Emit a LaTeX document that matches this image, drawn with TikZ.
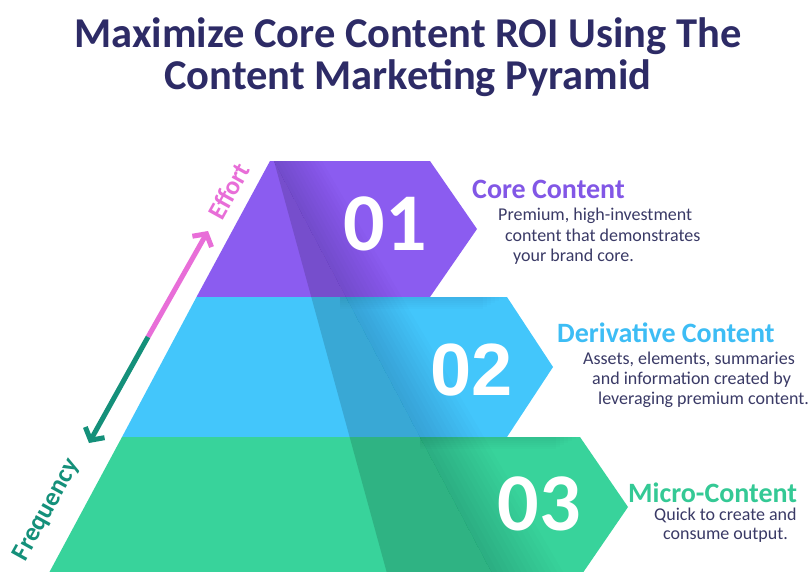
\documentclass[tikz,border=0pt]{standalone}
\usepackage{fontspec}
\setmainfont{Carlito}
\newfontfamily\numfont{Liberation Sans}
\usetikzlibrary{arrows.meta}

\definecolor{navy}{HTML}{2D2B66}
\definecolor{bodytext}{HTML}{3A3A66}
\definecolor{tierpurple}{HTML}{8B5CF0}
\definecolor{tierblue}{HTML}{43C6FB}
\definecolor{tiergreen}{HTML}{38D39B}
\definecolor{headpurple}{HTML}{8257E6}
\definecolor{headblue}{HTML}{3DBDF5}
\definecolor{headgreen}{HTML}{34C995}
\definecolor{effortpink}{HTML}{E86ED8}
\definecolor{freqteal}{HTML}{14907A}

\tikzset{
  titletext/.style={anchor=base, text=navy, font=\fontsize{42.5}{44}\selectfont\bfseries, inner sep=0pt},
  numtext/.style={text=white, inner sep=0pt, font=\fontsize{82}{82}\selectfont\bfseries},
  headtext/.style={anchor=base west, inner sep=0pt, font=\fontsize{28}{30}\selectfont\bfseries},
  bodyline/.style={anchor=base west, inner sep=0pt, text=bodytext, font=\fontsize{18}{20}\selectfont},
  axislabel/.style={inner sep=0pt, rotate=61, font=\fontsize{26}{28}\selectfont\bfseries},
  axisarrow/.style={line width=5pt, -{Straight Barb[length=9pt,width=22pt,line width=5pt]}},
}

\begin{document}
\begin{tikzpicture}[x=1pt,y=-1pt]
\useasboundingbox (0,0) rectangle (809,571);
\fill[white] (0,0) rectangle (809,571);

% title
\node[titletext] (title1) at (408,47) {Maximize Core Content ROI Using The};
\node[titletext] (title2) at (408,89) {Content Marketing Pyramid};

% pyramid tiers
\fill[tierpurple] (270,161) -- (430,161) -- (477,229) -- (430,297) -- (196.5,297) -- cycle;
\fill[tierblue] (196.5,297) -- (507,297) -- (553,367) -- (507,437) -- (122,437) -- cycle;
\fill[tiergreen] (122,437) -- (580,437) -- (628,507) -- (580,577) -- (46.8,577) -- cycle;

% folded crease across all tiers
\begin{scope}
  \clip (270,161) -- (430,161) -- (477,229) -- (430,297) -- (196.5,297) -- cycle
        (196.5,297) -- (507,297) -- (553,367) -- (507,437) -- (122,437) -- cycle
        (122,437) -- (580,437) -- (628,507) -- (580,577) -- (46.8,577) -- cycle;
  \fill[black, opacity=0.15] (274,161) -- (388,577) -- (494,577) -- cycle;
  \foreach \k in {1,...,12} {
    \fill[black, opacity=0.011] (274,161) -- (494,577) -- ({494+\k*6},577) -- ({274+\k*4},161) -- cycle;
  }
  % soft shadows cast by the tier above
  \foreach \k in {1,...,6} {
    \fill[black, opacity=0.012] (340,297) rectangle ({507-\k*4},{297+\k*2});
    \fill[black, opacity=0.012] (420,437) rectangle ({580-\k*4},{437+\k*2});
  }
\end{scope}

% numbers
\node[numtext] (n1) at (385,224) {01};
\node[numtext, font=\numfont\fontsize{74}{74}\selectfont\bfseries] (n2) at (472,370) {02};
\node[numtext] (n3) at (539,504) {03};

% tier descriptions
\node[headtext, text=headpurple] (h1) at (472,198) {Core Content};
\node[bodyline] (b1a) at (498,220) {Premium, high-investment};
\node[bodyline] (b1b) at (505,241) {content that demonstrates};
\node[bodyline] (b1c) at (513,261) {your brand core.};

\node[headtext, text=headblue] (h2) at (557,342) {Derivative Content};
\node[bodyline] (b2a) at (583,364) {Assets, elements, summaries};
\node[bodyline] (b2b) at (592,384) {and information created by};
\node[bodyline] (b2c) at (598,404) {leveraging premium content.};

\node[headtext, text=headgreen] (h3) at (628,502) {Micro-Content};
\node[bodyline] (b3a) at (654,520) {Quick to create and};
\node[bodyline] (b3b) at (663,539) {consume output.};

% effort / frequency axis
\coordinate (split) at (148,337);
\coordinate (efftip) at (208,231);
\coordinate (freqtip) at (89,443);
\draw[axisarrow, effortpink] (split) -- (efftip);
\draw[axisarrow, freqteal] (split) -- (freqtip);
\node[axislabel, text=effortpink] (effort) at (229,191) {Effort};
\node[axislabel, text=freqteal] (freq) at (47,510) {Frequency};
\end{tikzpicture}
\end{document}
